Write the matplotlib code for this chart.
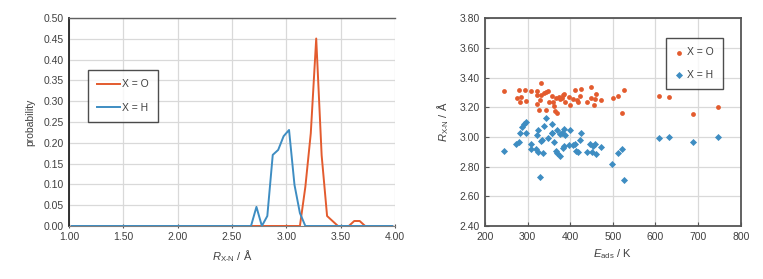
import numpy as np
import matplotlib
matplotlib.use("Agg")
import matplotlib.pyplot as plt

plt.rcParams['font.family'] = ['Liberation Sans', 'DejaVu Sans']
plt.rcParams['mathtext.fontset'] = 'custom'
plt.rcParams['mathtext.rm'] = 'Liberation Sans'
plt.rcParams['mathtext.it'] = 'Liberation Sans:italic'

RED = '#E35B2E'
BLUE = '#3E8DC2'

# ---- left panel data: probability distributions of R_X-N ----
r_bins = [round(1.025 + 0.05 * k, 3) for k in range(60)]
prob_O_nonzero = {3.175: 0.094, 3.225: 0.223, 3.275: 0.451, 3.325: 0.170,
                  3.375: 0.024, 3.425: 0.012, 3.625: 0.012, 3.675: 0.012}
prob_H_nonzero = {2.725: 0.046, 2.825: 0.024, 2.875: 0.171, 2.925: 0.183,
                  2.975: 0.216, 3.025: 0.231, 3.075: 0.099, 3.125: 0.031}
prob_O = [prob_O_nonzero.get(r, 0.0) for r in r_bins]
prob_H = [prob_H_nonzero.get(r, 0.0) for r in r_bins]

# ---- right panel data: E_ads vs R_X-N ----
eads_O = [245, 274, 280, 284, 283, 294, 295, 307, 322, 323, 321, 326, 332, 330,
          331, 338, 343, 348, 342, 349, 357, 359, 363, 367, 365, 368, 373, 377,
          381, 384, 385, 387, 396, 400, 407, 411, 416, 418, 423, 425, 439, 448,
          449, 456, 458, 461, 472, 500, 512, 525, 522, 608, 631, 687, 746]
r_O = [3.31, 3.265, 3.315, 3.272, 3.238, 3.315, 3.243, 3.306, 3.279, 3.31,
       3.225, 3.178, 3.36, 3.249, 3.283, 3.294, 3.303, 3.31, 3.182, 3.238,
       3.276, 3.236, 3.207, 3.261, 3.175, 3.164, 3.267, 3.258, 3.263, 3.279,
       3.29, 3.234, 3.272, 3.213, 3.258, 3.315, 3.249, 3.236, 3.274, 3.324,
       3.236, 3.337, 3.263, 3.213, 3.252, 3.29, 3.247, 3.265, 3.276, 3.315,
       3.164, 3.274, 3.267, 3.155, 3.202]

eads_H = [286, 292, 295, 342, 324, 339, 356, 368, 385, 400, 357, 377, 381, 387,
          425, 245, 273, 280, 282, 296, 307, 307, 321, 320, 325, 331, 333, 335,
          329, 347, 358, 362, 366, 368, 375, 382, 386, 397, 406, 410, 414, 418,
          422, 439, 446, 451, 454, 457, 460, 471, 499, 511, 522, 525, 608, 632,
          687, 746]
r_H = [3.07, 3.088, 3.099, 3.128, 3.047, 3.074, 3.088, 3.045, 3.054, 3.045,
       3.025, 3.02, 3.025, 3.016, 3.029, 2.903, 2.953, 2.969, 3.027, 3.027,
       2.953, 2.917, 3.016, 2.919, 2.899, 2.973, 2.98, 2.894, 2.728, 2.991,
       3.027, 2.966, 2.908, 2.894, 2.87, 2.928, 2.937, 2.948, 2.944, 2.953,
       2.903, 2.897, 2.98, 2.897, 2.953, 2.899, 2.942, 2.951, 2.888, 2.935,
       2.818, 2.89, 2.917, 2.71, 2.996, 3.0, 2.966, 3.0]

labels = ['X = O', 'X = H']
left_xticks = [1.0, 1.5, 2.0, 2.5, 3.0, 3.5, 4.0]
left_yticks = [0.0, 0.05, 0.10, 0.15, 0.20, 0.25, 0.30, 0.35, 0.40, 0.45, 0.50]
right_xticks = [200, 300, 400, 500, 600, 700, 800]
right_yticks = [2.40, 2.60, 2.80, 3.00, 3.20, 3.40, 3.60, 3.80]

fig = plt.figure(figsize=(7.63, 2.79), dpi=100)
FS = 7.5
GRID = '#D9D9D9'

# ---------------- left panel ----------------
ax1 = fig.add_axes([0.0904, 0.190, 0.4273, 0.745])
ax1.plot(r_bins, prob_O, color=RED, lw=1.4, label=labels[0], zorder=3)
ax1.plot(r_bins, prob_H, color=BLUE, lw=1.4, label=labels[1], zorder=4)
ax1.set_xlim(1.0, 4.0)
ax1.set_ylim(0.0, 0.5)
ax1.set_xticks(left_xticks)
ax1.set_yticks(left_yticks)
ax1.set_xticklabels([f'{v:.2f}' for v in left_xticks], fontsize=FS, color='#404040')
ax1.set_yticklabels([f'{v:.2f}' for v in left_yticks], fontsize=FS, color='#404040')
ax1.grid(True, color=GRID, lw=0.9)
ax1.set_axisbelow(True)
ax1.spines['left'].set_color('#222222')
ax1.spines['left'].set_linewidth(1.3)
ax1.spines['bottom'].set_color('#808080')
ax1.spines['top'].set_color('#606060')
ax1.spines['top'].set_linewidth(1.0)
ax1.spines['right'].set_visible(False)
ax1.tick_params(axis='x', direction='inout', length=3, color='#555555', pad=3)
ax1.tick_params(axis='y', length=0, pad=4)
ax1.set_ylabel('probability', fontsize=FS, color='#404040', labelpad=6)
ax1.set_xlabel(r'$R_{\mathrm{X\text{-}N}}$ / Å', fontsize=FS + 0.5, color='#404040', labelpad=4)
leg1 = ax1.legend(loc='upper left', bbox_to_anchor=(0.058, 0.75), fontsize=FS,
                  frameon=True, fancybox=False, edgecolor='#222222',
                  handlelength=2.2, handletextpad=0.2, borderpad=0.9,
                  labelspacing=1.3, borderaxespad=0)
leg1.get_frame().set_linewidth(1.0)
for t in leg1.get_texts():
    t.set_color('#404040')

# ---------------- right panel ----------------
ax2 = fig.add_axes([0.6357, 0.190, 0.3351, 0.745])
ax2.scatter(eads_O, r_O, s=12, color=RED, marker='o', linewidths=0,
            label=labels[0], zorder=3)
ax2.scatter(eads_H, r_H, s=13, color=BLUE, marker='D', linewidths=0,
            label=labels[1], zorder=3)
ax2.set_xlim(200, 800)
ax2.set_ylim(2.40, 3.80)
ax2.set_xticks(right_xticks)
ax2.set_yticks(right_yticks)
ax2.set_xticklabels([str(v) for v in right_xticks], fontsize=FS, color='#404040')
ax2.set_yticklabels([f'{v:.2f}' for v in right_yticks], fontsize=FS, color='#404040')
ax2.grid(True, color=GRID, lw=0.9)
ax2.set_axisbelow(True)
for s in ax2.spines.values():
    s.set_color('#555555')
    s.set_linewidth(1.3)
ax2.tick_params(axis='both', direction='in', length=3, color='#555555', pad=4)
ax2.set_xlabel(r'$E_{\mathrm{ads}}$ / K', fontsize=FS + 0.5, color='#404040', labelpad=4)
ax2.set_ylabel(r'$R_{\mathrm{X\text{-}N}}$ / Å', fontsize=FS + 0.5, color='#404040', labelpad=6)
leg2 = ax2.legend(loc='upper left', bbox_to_anchor=(0.707, 0.904), fontsize=FS,
                  frameon=True, fancybox=False, edgecolor='#222222',
                  handlelength=0.8, handletextpad=0.3, borderpad=0.9,
                  labelspacing=1.2, borderaxespad=0, scatterpoints=1)
leg2.get_frame().set_linewidth(1.0)
for t in leg2.get_texts():
    t.set_color('#404040')

fig.savefig('out.png', dpi=100)
